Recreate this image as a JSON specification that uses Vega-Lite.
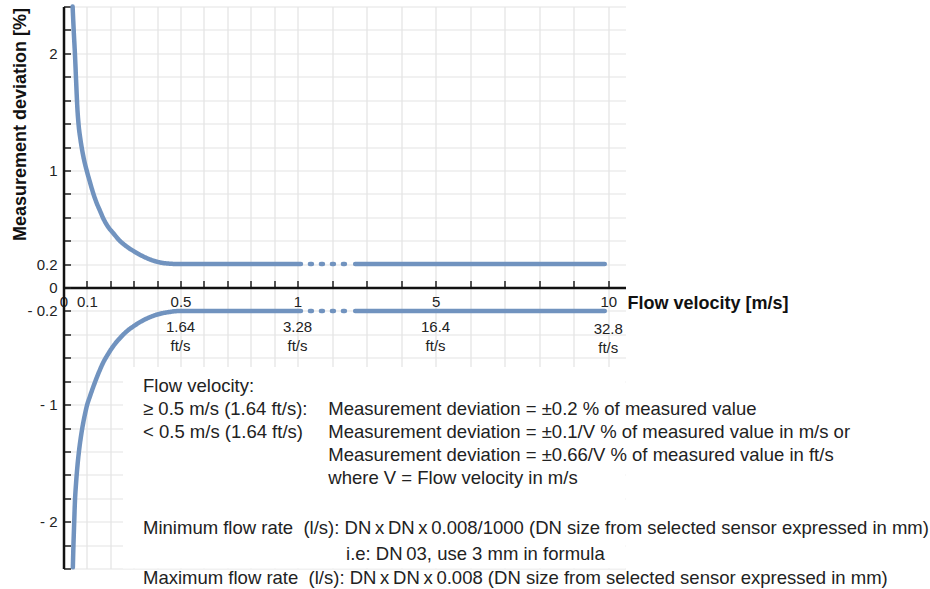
{
  "$schema": "https://vega.github.io/schema/vega-lite/v6.json",
  "width": 562,
  "height": 562,
  "autosize": {"type": "none"},
  "padding": {"left": 63.5, "top": 6.5, "right": 304.5, "bottom": 20.5},
  "background": "white",
  "config": {
    "view": {"stroke": null},
    "font": "Liberation Sans",
    "text": {"font": "Liberation Sans", "color": "#222"}
  },
  "datasets": {
    "curve": [
      {"v": 0.039, "dev": 2.40, "grp": "up-a", "style": "solid"},
      {"v": 0.044, "dev": 2.18, "grp": "up-a", "style": "solid"},
      {"v": 0.049, "dev": 1.99, "grp": "up-a", "style": "solid"},
      {"v": 0.054, "dev": 1.76, "grp": "up-a", "style": "solid"},
      {"v": 0.059, "dev": 1.54, "grp": "up-a", "style": "solid"},
      {"v": 0.065, "dev": 1.38, "grp": "up-a", "style": "solid"},
      {"v": 0.072, "dev": 1.27, "grp": "up-a", "style": "solid"},
      {"v": 0.080, "dev": 1.17, "grp": "up-a", "style": "solid"},
      {"v": 0.089, "dev": 1.08, "grp": "up-a", "style": "solid"},
      {"v": 0.099, "dev": 1.00, "grp": "up-a", "style": "solid"},
      {"v": 0.113, "dev": 0.90, "grp": "up-a", "style": "solid"},
      {"v": 0.127, "dev": 0.805, "grp": "up-a", "style": "solid"},
      {"v": 0.142, "dev": 0.72, "grp": "up-a", "style": "solid"},
      {"v": 0.156, "dev": 0.655, "grp": "up-a", "style": "solid"},
      {"v": 0.170, "dev": 0.59, "grp": "up-a", "style": "solid"},
      {"v": 0.190, "dev": 0.52, "grp": "up-a", "style": "solid"},
      {"v": 0.213, "dev": 0.463, "grp": "up-a", "style": "solid"},
      {"v": 0.240, "dev": 0.40, "grp": "up-a", "style": "solid"},
      {"v": 0.270, "dev": 0.35, "grp": "up-a", "style": "solid"},
      {"v": 0.300, "dev": 0.31, "grp": "up-a", "style": "solid"},
      {"v": 0.341, "dev": 0.265, "grp": "up-a", "style": "solid"},
      {"v": 0.380, "dev": 0.232, "grp": "up-a", "style": "solid"},
      {"v": 0.410, "dev": 0.215, "grp": "up-a", "style": "solid"},
      {"v": 0.450, "dev": 0.204, "grp": "up-a", "style": "solid"},
      {"v": 0.500, "dev": 0.20, "grp": "up-a", "style": "solid"},
      {"v": 1.10, "dev": 0.20, "grp": "up-a", "style": "solid"},
      {"v": 1.36, "dev": 0.20, "grp": "up-b", "style": "dotted"},
      {"v": 2.40, "dev": 0.20, "grp": "up-b", "style": "dotted"},
      {"v": 2.67, "dev": 0.20, "grp": "up-c", "style": "solid"},
      {"v": 9.90, "dev": 0.20, "grp": "up-c", "style": "solid"},
      {"v": 0.040, "dev": -2.39, "grp": "lo-a", "style": "solid"},
      {"v": 0.0425, "dev": -2.20, "grp": "lo-a", "style": "solid"},
      {"v": 0.045, "dev": -2.05, "grp": "lo-a", "style": "solid"},
      {"v": 0.049, "dev": -1.82, "grp": "lo-a", "style": "solid"},
      {"v": 0.053, "dev": -1.69, "grp": "lo-a", "style": "solid"},
      {"v": 0.058, "dev": -1.56, "grp": "lo-a", "style": "solid"},
      {"v": 0.066, "dev": -1.40, "grp": "lo-a", "style": "solid"},
      {"v": 0.074, "dev": -1.28, "grp": "lo-a", "style": "solid"},
      {"v": 0.083, "dev": -1.17, "grp": "lo-a", "style": "solid"},
      {"v": 0.092, "dev": -1.08, "grp": "lo-a", "style": "solid"},
      {"v": 0.100, "dev": -1.01, "grp": "lo-a", "style": "solid"},
      {"v": 0.113, "dev": -0.93, "grp": "lo-a", "style": "solid"},
      {"v": 0.127, "dev": -0.85, "grp": "lo-a", "style": "solid"},
      {"v": 0.148, "dev": -0.74, "grp": "lo-a", "style": "solid"},
      {"v": 0.170, "dev": -0.64, "grp": "lo-a", "style": "solid"},
      {"v": 0.190, "dev": -0.57, "grp": "lo-a", "style": "solid"},
      {"v": 0.213, "dev": -0.50, "grp": "lo-a", "style": "solid"},
      {"v": 0.240, "dev": -0.435, "grp": "lo-a", "style": "solid"},
      {"v": 0.270, "dev": -0.375, "grp": "lo-a", "style": "solid"},
      {"v": 0.300, "dev": -0.33, "grp": "lo-a", "style": "solid"},
      {"v": 0.341, "dev": -0.28, "grp": "lo-a", "style": "solid"},
      {"v": 0.380, "dev": -0.245, "grp": "lo-a", "style": "solid"},
      {"v": 0.410, "dev": -0.226, "grp": "lo-a", "style": "solid"},
      {"v": 0.450, "dev": -0.21, "grp": "lo-a", "style": "solid"},
      {"v": 0.500, "dev": -0.20, "grp": "lo-a", "style": "solid"},
      {"v": 1.10, "dev": -0.20, "grp": "lo-a", "style": "solid"},
      {"v": 1.36, "dev": -0.20, "grp": "lo-b", "style": "dotted"},
      {"v": 2.40, "dev": -0.20, "grp": "lo-b", "style": "dotted"},
      {"v": 2.67, "dev": -0.20, "grp": "lo-c", "style": "solid"},
      {"v": 9.90, "dev": -0.20, "grp": "lo-c", "style": "solid"}
    ]
  },
  "layer": [
    {
      "data": {"values": [{"box": "note"}]},
      "mark": {"type": "rect", "fill": "white"},
      "encoding": {
        "x": {"datum": 0.254, "type": "quantitative"},
        "x2": {"datum": 10.5},
        "y": {"datum": -0.68, "type": "quantitative"},
        "y2": {"datum": -2.4}
      }
    },
    {
      "data": {"name": "curve"},
      "mark": {"type": "line", "strokeWidth": 4.5, "strokeCap": "round", "color": "#7193bf", "interpolate": "monotone"},
      "encoding": {
        "x": {
          "field": "v", "type": "quantitative",
          "scale": {"domain": [0, 1, 10.5], "range": [0, 234, 562], "zero": false, "nice": false},
          "axis": {
            "orient": "bottom", "offset": -281,
            "values": [0, 0.1, 0.2, 0.3, 0.4, 0.5, 0.6, 0.7, 0.8, 0.9, 1, 2, 3, 4, 5, 6, 7, 8, 9, 10],
            "tickCount": 100,
            "grid": true, "gridColor": "#e3e3e3", "gridWidth": 1.2,
            "domain": true, "domainColor": "#111", "domainWidth": 2.5,
            "ticks": true, "tickSize": -7, "tickColor": "#222", "tickWidth": 1.5,
            "labelExpr": "indexof([0, 0.1, 0.5, 1, 5, 10], datum.value) >= 0 ? '' + datum.value : ''",
            "labelFontSize": 15, "labelColor": "#222", "labelPadding": 14,
            "labelFlush": false, "labelOverlap": false, "labelBound": false,
            "title": "Flow velocity [m/s]", "titleFontSize": 18, "titleFontWeight": "bold", "titleColor": "#111",
            "titleAlign": "left", "titleAnchor": "start", "titleBaseline": "middle", "titleX": 563.5, "titleY": 15.5
          }
        },
        "y": {
          "field": "dev", "type": "quantitative",
          "scale": {"domain": [-2.4, 2.4], "zero": false, "nice": false},
          "axis": {
            "values": [-2.4, -2.2, -2, -1.8, -1.6, -1.4, -1.2, -1, -0.8, -0.6, -0.4, -0.2, 0, 0.2, 0.4, 0.6, 0.8, 1, 1.2, 1.4, 1.6, 1.8, 2, 2.2, 2.4],
            "tickCount": 100,
            "grid": true, "gridColor": "#e3e3e3", "gridWidth": 1.2,
            "domain": true, "domainColor": "#111", "domainWidth": 2.5,
            "ticks": true, "tickSize": -7, "tickColor": "#222", "tickWidth": 1.5,
            "labelExpr": "datum.value == 2 ? '2' : datum.value == 1 ? '1' : datum.value == 0.2 ? '0.2' : datum.value == 0 ? '0' : datum.value == -0.2 ? '- 0.2' : datum.value == -1 ? '- 1' : datum.value == -2 ? '- 2' : ''",
            "labelFontSize": 15, "labelColor": "#222", "labelPadding": 13.5,
            "labelFlush": false, "labelOverlap": false, "labelBound": false,
            "title": "Measurement deviation [%]", "titleFontSize": 18, "titleFontWeight": "bold", "titleColor": "#111",
            "titleAngle": -90, "titleAlign": "right", "titleAnchor": "end", "titleBaseline": "middle", "titleX": -43.5, "titleY": 1
          }
        },
        "detail": {"field": "grp"},
        "strokeDash": {"field": "style", "type": "nominal", "scale": {"domain": ["solid", "dotted"], "range": [[1, 0], [2, 9]]}, "legend": null}
      }
    },
    {
      "data": {"values": [{"v": 0.5, "ft": "1.64\nft/s"}, {"v": 1, "ft": "3.28\nft/s"}, {"v": 5, "ft": "16.4\nft/s"}]},
      "mark": {"type": "text", "fontSize": 15, "lineHeight": 19, "lineBreak": "\n", "align": "center", "baseline": "alphabetic"},
      "encoding": {"x": {"field": "v", "type": "quantitative"}, "y": {"datum": -0.378}, "text": {"field": "ft"}}
    },
    {
      "data": {"values": [{"v": 10, "ft": "32.8\nft/s"}]},
      "mark": {"type": "text", "fontSize": 15, "lineHeight": 19, "lineBreak": "\n", "align": "center", "baseline": "alphabetic"},
      "encoding": {"x": {"field": "v", "type": "quantitative"}, "y": {"datum": -0.397}, "text": {"field": "ft"}}
    },
    {
      "data": {"values": [{"txt": "Flow velocity:\n≥ 0.5 m/s (1.64 ft/s):\n< 0.5 m/s (1.64 ft/s)"}]},
      "mark": {"type": "text", "fontSize": 18.5, "lineHeight": 23, "lineBreak": "\n", "align": "left", "baseline": "alphabetic"},
      "encoding": {"x": {"datum": 0.34}, "y": {"datum": -0.891}, "text": {"field": "txt"}}
    },
    {
      "data": {"values": [{"txt": "Measurement deviation = ±0.2 % of measured value\nMeasurement deviation = ±0.1/V % of measured value in m/s or\nMeasurement deviation = ±0.66/V % of measured value in ft/s\nwhere V = Flow velocity in m/s"}]},
      "mark": {"type": "text", "fontSize": 18.5, "lineHeight": 23, "lineBreak": "\n", "align": "left", "baseline": "alphabetic"},
      "encoding": {"x": {"datum": 1.893}, "y": {"datum": -1.09}, "text": {"field": "txt"}}
    },
    {
      "data": {"values": [{"txt": "Minimum flow rate\u00a0 (l/s): DN\u2009x\u2009DN\u2009x\u20090.008/1000 (DN size from selected sensor expressed in mm)"}]},
      "mark": {"type": "text", "fontSize": 18.5, "align": "left", "baseline": "alphabetic"},
      "encoding": {"x": {"datum": 0.34}, "y": {"datum": -2.107}, "text": {"field": "txt"}}
    },
    {
      "data": {"values": [{"txt": "i.e: DN\u200903, use 3 mm in formula"}]},
      "mark": {"type": "text", "fontSize": 18.5, "align": "left", "baseline": "alphabetic"},
      "encoding": {"x": {"datum": 2.406}, "y": {"datum": -2.329}, "text": {"field": "txt"}}
    },
    {
      "data": {"values": [{"txt": "Maximum flow rate\u00a0 (l/s): DN\u2009x\u2009DN\u2009x\u20090.008 (DN size from selected sensor expressed in mm)"}]},
      "mark": {"type": "text", "fontSize": 18.5, "align": "left", "baseline": "alphabetic"},
      "encoding": {"x": {"datum": 0.34}, "y": {"datum": -2.534}, "text": {"field": "txt"}}
    }
  ]
}
